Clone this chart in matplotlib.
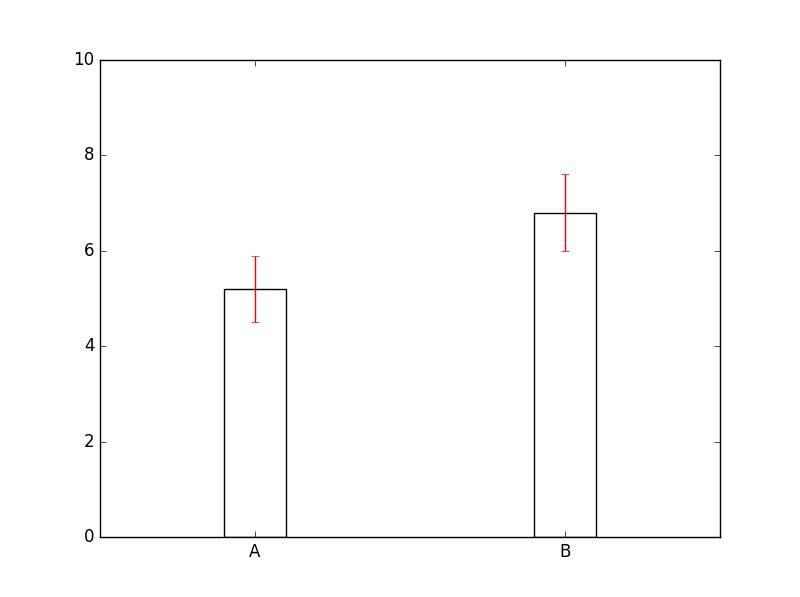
import matplotlib
matplotlib.use('Agg')
import matplotlib.pyplot as plt

labels = ['A', 'B']
values = [5.2, 6.8]
errors = [0.7, 0.8]

plt.style.use('classic')

fig = plt.figure(figsize=(8, 5.97), dpi=100)
ax = fig.add_subplot(1, 1, 1)

pos = list(range(len(labels)))
ax.bar(pos, values, width=0.2, align='center', color='white', edgecolor='black')
ax.errorbar(pos, values, yerr=errors, fmt='none', ecolor='red', capsize=3)

ax.set_xlim(-0.5, 1.5)
ax.set_ylim(0, 10)
ax.set_xticks(pos)
ax.set_xticklabels(labels)

fig.savefig('out.png', dpi=100)
